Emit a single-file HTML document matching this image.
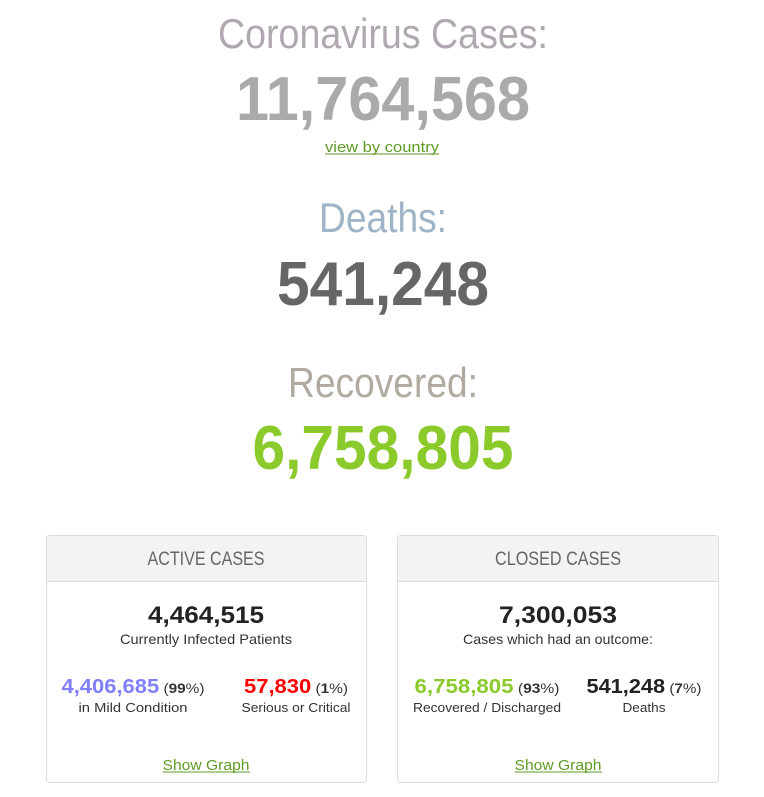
<!DOCTYPE html>
<html><head><meta charset="utf-8"><style>
html,body{margin:0;padding:0;background:#fff;width:764px;height:797px;overflow:hidden}
svg{display:block;font-family:"Liberation Sans",sans-serif}
</style></head><body>
<svg width="764" height="797" viewBox="0 0 764 797">
<g text-anchor="middle">
<text x="383" y="48" font-size="42" fill="#b0a8b0" textLength="330" lengthAdjust="spacingAndGlyphs">Coronavirus Cases:</text>
<text x="383" y="120" font-size="62" fill="#aaa" font-weight="bold" textLength="294" lengthAdjust="spacingAndGlyphs">11,764,568</text>
<text x="382" y="152" font-size="15" fill="#5f9a24" textLength="114" lengthAdjust="spacingAndGlyphs">view by country</text>
<line x1="325" y1="154" x2="439" y2="154" stroke="#5f9a24" stroke-width="1"/>
<text x="383" y="232" font-size="42" fill="#a0b4c8" textLength="128" lengthAdjust="spacingAndGlyphs">Deaths:</text>
<text x="383" y="305" font-size="62" fill="#666" font-weight="bold" textLength="212" lengthAdjust="spacingAndGlyphs">541,248</text>
<text x="383" y="397" font-size="42" fill="#b0aaa0" textLength="190" lengthAdjust="spacingAndGlyphs">Recovered:</text>
<text x="383" y="469" font-size="62" fill="#8aca2b" font-weight="bold" textLength="261" lengthAdjust="spacingAndGlyphs">6,758,805</text>
</g>
<g>
<rect x="46.5" y="535.5" width="320" height="247" rx="3" fill="#fff" stroke="#ddd"/>
<path d="M47 581 V539 Q47 536 50 536 H363 Q366 536 366 539 V581 Z" fill="#f3f3f3"/>
<line x1="47" y1="581.5" x2="366" y2="581.5" stroke="#ddd"/>
<rect x="397.5" y="535.5" width="321" height="247" rx="3" fill="#fff" stroke="#ddd"/>
<path d="M398 581 V539 Q398 536 401 536 H715 Q718 536 718 539 V581 Z" fill="#f3f3f3"/>
<line x1="398" y1="581.5" x2="718" y2="581.5" stroke="#ddd"/>
</g>
<g text-anchor="middle" fill="#333">
<text x="206" y="565" font-size="19" fill="#666" textLength="117" lengthAdjust="spacingAndGlyphs">ACTIVE CASES</text>
<text x="206" y="623" font-size="24" font-weight="bold" fill="#222" textLength="116" lengthAdjust="spacingAndGlyphs">4,464,515</text>
<text x="206" y="644" font-size="14" textLength="172" lengthAdjust="spacingAndGlyphs">Currently Infected Patients</text>
<text x="133" y="693" font-size="14" textLength="143" lengthAdjust="spacingAndGlyphs"><tspan font-size="20" font-weight="bold" fill="#8080ff">4,406,685</tspan> (<tspan font-weight="bold">99</tspan>%)</text>
<text x="133" y="712" font-size="13" textLength="109" lengthAdjust="spacingAndGlyphs">in Mild Condition</text>
<text x="296" y="693" font-size="14" textLength="104" lengthAdjust="spacingAndGlyphs"><tspan font-size="20" font-weight="bold" fill="#f00">57,830</tspan> (<tspan font-weight="bold">1</tspan>%)</text>
<text x="296" y="712" font-size="13" textLength="109" lengthAdjust="spacingAndGlyphs">Serious or Critical</text>
<text x="206" y="770" font-size="15" fill="#5f9a24" textLength="87" lengthAdjust="spacingAndGlyphs">Show Graph</text>
<line x1="163" y1="772" x2="250" y2="772" stroke="#5f9a24"/>

<text x="558" y="565" font-size="19" fill="#666" textLength="126" lengthAdjust="spacingAndGlyphs">CLOSED CASES</text>
<text x="558" y="623" font-size="24" font-weight="bold" fill="#222" textLength="118" lengthAdjust="spacingAndGlyphs">7,300,053</text>
<text x="558" y="644" font-size="14" textLength="190" lengthAdjust="spacingAndGlyphs">Cases which had an outcome:</text>
<text x="487" y="693" font-size="14" textLength="145" lengthAdjust="spacingAndGlyphs"><tspan font-size="20" font-weight="bold" fill="#8aca2b">6,758,805</tspan> (<tspan font-weight="bold">93</tspan>%)</text>
<text x="487" y="712" font-size="13" textLength="148" lengthAdjust="spacingAndGlyphs">Recovered / Discharged</text>
<text x="644" y="693" font-size="14" textLength="115" lengthAdjust="spacingAndGlyphs"><tspan font-size="20" font-weight="bold" fill="#222">541,248</tspan> (<tspan font-weight="bold">7</tspan>%)</text>
<text x="644" y="712" font-size="13" textLength="43" lengthAdjust="spacingAndGlyphs">Deaths</text>
<text x="558" y="770" font-size="15" fill="#5f9a24" textLength="87" lengthAdjust="spacingAndGlyphs">Show Graph</text>
<line x1="515" y1="772" x2="602" y2="772" stroke="#5f9a24"/>
</g>
</svg>
</body></html>
